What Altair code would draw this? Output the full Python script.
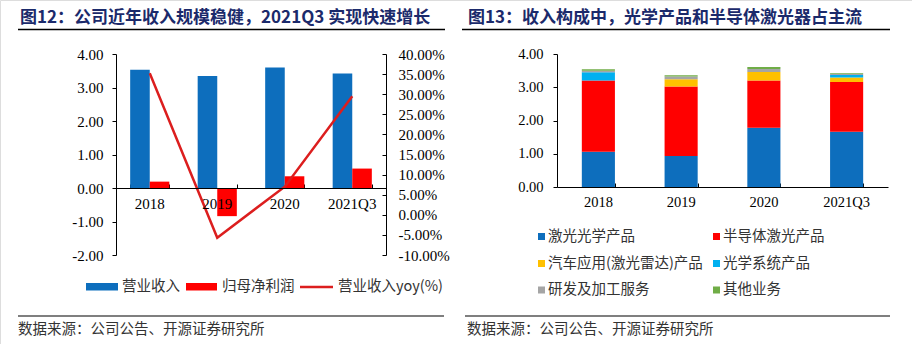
import altair as alt
import pandas as pd

# ---------------- data ----------------
years = ["2018", "2019", "2020", "2021Q3"]

# left chart (亿元 / %)
left_series = ["营业收入", "归母净利润", "营业收入yoy(%)"]
revenue = [3.53, 3.34, 3.60, 3.42]
net_profit = [0.19, -0.84, 0.35, 0.58]
revenue_yoy = [0.352, -0.057, 0.070, 0.295]
left_ticks = [-2, -1, 0, 1, 2, 3, 4]
yoy_ticks = [-0.10, -0.05, 0.0, 0.05, 0.10, 0.15, 0.20, 0.25, 0.30, 0.35, 0.40]

# right chart (亿元)
seg_names = ["激光光学产品", "半导体激光产品", "汽车应用(激光雷达)产品",
             "光学系统产品", "研发及加工服务", "其他业务"]
seg_laser_optics = [1.06, 0.93, 1.78, 1.66]
seg_semiconductor = [2.14, 2.09, 1.42, 1.50]
seg_auto_lidar = [0.00, 0.22, 0.26, 0.13]
seg_optical_sys = [0.25, 0.00, 0.00, 0.08]
seg_rd_service = [0.05, 0.08, 0.09, 0.03]
seg_other = [0.04, 0.04, 0.06, 0.02]
right_ticks = [0, 1, 2, 3, 4]

title_left = "图12：公司近年收入规模稳健，2021Q3 实现快速增长"
title_right = "图13：收入构成中，光学产品和半导体激光器占主流"
source_text = "数据来源：公司公告、开源证券研究所"

# ---------------- style ----------------
W, H = 912, 344
FONT_CN = "Noto Sans CJK SC"
FONT_NUM = "Liberation Serif"
NAVY = "#1B2A6B"
BLUE = "#0D6EBD"
RED = "#FF0000"
LINE_RED = "#DC1E1E"
SEG_COLORS = ["#0D6EBD", "#FF0000", "#FFC000", "#00B0F0", "#A5A5A5", "#70AD47"]
TXT = "#333333"

L_X0, L_X1, L_YT, L_YB = 116, 386, 54, 255
R_X0, R_X1, R_YT, R_YB = 557, 888, 54, 187
L_ZERO = 188

MINUS_FIX = "'\u2212', '-'"

# ---------------- tables ----------------
df_left = pd.DataFrame({
    "year": years * 2,
    "series": [left_series[0]] * 4 + [left_series[1]] * 4,
    "value": revenue + net_profit,
})
df_yoy = pd.DataFrame({"year": years, "yoy": revenue_yoy})

seg_values = [seg_laser_optics, seg_semiconductor, seg_auto_lidar,
              seg_optical_sys, seg_rd_service, seg_other]
rows = []
for i, (name, vals) in enumerate(zip(seg_names, seg_values)):
    for y, v in zip(years, vals):
        rows.append({"year": y, "segment": name, "value": v, "order": i})
df_right = pd.DataFrame(rows)

# ---------------- left chart ----------------
x_left_scale = alt.Scale(domain=years, range=[L_X0, L_X1], paddingInner=0.42, paddingOuter=0.21)
y_left_scale = alt.Scale(domain=[-2, 4], range=[L_YB, L_YT], nice=False, zero=False)
y_yoy_scale = alt.Scale(domain=[-0.10, 0.40], range=[L_YB, L_YT], nice=False, zero=False)

bars_left = alt.Chart(df_left).mark_bar().encode(
    x=alt.X("year:N", sort=years, scale=x_left_scale, title=None,
            axis=alt.Axis(orient="bottom", offset=L_ZERO - H, ticks=False, tickSize=0,
                          labelFont=FONT_NUM, labelFontSize=15, labelColor="#000",
                          labelPadding=8, labelAngle=0, domainColor="#000", grid=False,
                          zindex=1)),
    xOffset=alt.XOffset("series:N", sort=left_series[:2],
                        scale=alt.Scale(domain=left_series[:2], paddingInner=0, paddingOuter=0)),
    y=alt.Y("value:Q", scale=y_left_scale, title=None,
            axis=alt.Axis(orient="left", offset=-L_X0, values=left_ticks,
                          labelExpr="replace(format(datum.value, '.2f'), " + MINUS_FIX + ")",
                          tickSize=4, tickColor="#000", domainColor="#000",
                          labelFont=FONT_NUM, labelFontSize=15, labelColor="#000",
                          labelPadding=9, grid=False)),
    color=alt.Color("series:N", scale=alt.Scale(domain=left_series[:2], range=[BLUE, RED]), legend=None),
)

line_left = alt.Chart(df_yoy).mark_line(color=LINE_RED, strokeWidth=2.5).encode(
    x=alt.X("year:N", sort=years, scale=x_left_scale, title=None,
            axis=alt.Axis(orient="top", offset=-L_ZERO, labels=False, domain=False,
                          ticks=True, tickSize=4, tickColor="#000", tickBand="extent", grid=False)),
    y=alt.Y("yoy:Q", scale=y_yoy_scale, title=None,
            axis=alt.Axis(orient="right", offset=L_X1 - W, values=yoy_ticks,
                          labelExpr="replace(format(datum.value, '.2%'), " + MINUS_FIX + ")",
                          ticks=False, tickSize=0, domainColor="#000",
                          labelFont=FONT_NUM, labelFontSize=15, labelColor="#000",
                          labelPadding=12, grid=False)),
)

ghost_yoy = alt.Chart(df_yoy).mark_line(opacity=0).encode(
    x=alt.X("year:N", sort=years, scale=x_left_scale, axis=None),
    y=alt.Y("yoy:Q", scale=y_yoy_scale, title=None,
            axis=alt.Axis(orient="left", offset=-L_X1, values=yoy_ticks, labels=False,
                          domain=False, ticks=True, tickSize=4, tickColor="#000", grid=False)),
)

# ---------------- right chart ----------------
x_right_scale = alt.Scale(domain=years, range=[R_X0, R_X1], paddingInner=0.6, paddingOuter=0.3)
y_right_scale = alt.Scale(domain=[0, 4], range=[R_YB, R_YT], nice=False, zero=False)

bars_right = alt.Chart(df_right).mark_bar().encode(
    x=alt.X("year:N", sort=years, scale=x_right_scale, title=None,
            axis=alt.Axis(orient="bottom", offset=R_YB - H, ticks=False, tickSize=0,
                          labelFont=FONT_NUM, labelFontSize=14.5, labelColor="#000",
                          labelPadding=8, labelAngle=0, domainColor="#000", grid=False)),
    y=alt.Y("value:Q", stack="zero", scale=y_right_scale, title=None,
            axis=alt.Axis(orient="left", offset=-R_X0, values=right_ticks, format=".2f",
                          tickSize=4, tickColor="#000", domainColor="#000",
                          labelFont=FONT_NUM, labelFontSize=14.5, labelColor="#000",
                          labelPadding=10, grid=False)),
    color=alt.Color("segment:N", scale=alt.Scale(domain=seg_names, range=SEG_COLORS), legend=None),
    order=alt.Order("order:Q", sort="ascending"),
)

ghost_right = alt.Chart(df_right).mark_point(opacity=0).encode(
    x=alt.X("year:N", sort=years, scale=x_right_scale, title=None,
            axis=alt.Axis(orient="top", offset=-R_YB, labels=False, domain=False,
                          ticks=True, tickSize=4, tickColor="#000", tickBand="extent", grid=False)),
    y=alt.Y("value:Q", scale=y_right_scale, axis=None),
)

# ---------------- text & decorations ----------------
def text_layer(txt, x, y, size=14.5, color=TXT, weight="normal", font=FONT_CN):
    return alt.Chart(pd.DataFrame({"t": [txt]})).mark_text(
        align="left", baseline="middle", font=font, fontSize=size,
        fontWeight=weight, color=color,
    ).encode(x=alt.value(x), y=alt.value(y), text="t:N")


def hrule(x0, x1, y, width=1.5, color="#000"):
    return alt.Chart(pd.DataFrame({"a": [0]})).mark_rule(color=color, strokeWidth=width).encode(
        x=alt.value(x0), x2=alt.value(x1), y=alt.value(y))


def box(x0, x1, y0, y1, color):
    return alt.Chart(pd.DataFrame({"a": [0]})).mark_rect(color=color).encode(
        x=alt.value(x0), x2=alt.value(x1), y=alt.value(y0), y2=alt.value(y1))


deco = [
    text_layer(title_left, 20, 18, size=17, color=NAVY, weight="bold"),
    text_layer(title_right, 468, 18, size=17, color=NAVY, weight="bold"),
    hrule(18, 445, 29.5),
    hrule(462, 890, 29.5),
    hrule(18, 444, 316, width=1.2),
    hrule(465, 890, 316, width=1.2),
    text_layer(source_text, 18, 330),
    text_layer(source_text, 467, 330),
    # left legend
    box(86, 118, 283, 290.5, BLUE),
    text_layer(left_series[0], 122, 287),
    box(186, 217, 283, 290.5, RED),
    text_layer(left_series[1], 222, 287),
    hrule(300, 333, 287, width=2.5, color=LINE_RED),
    text_layer(left_series[2], 338, 287),
]

# right legend (3 rows x 2 columns)
col_x = [538, 713]
row_y = [236.5, 263.5, 290]
for i, name in enumerate(seg_names):
    cx = col_x[i % 2]
    ry = row_y[i // 2]
    deco.append(box(cx, cx + 7, ry - 3.5, ry + 3.5, SEG_COLORS[i]))
    deco.append(text_layer(name, cx + 10, ry))

chart = alt.layer(
    bars_left, line_left, ghost_yoy, bars_right, ghost_right, *deco
).resolve_scale(
    x="independent", y="independent", color="independent", xOffset="independent"
).properties(
    width=W, height=H, padding=0,
    autosize=alt.AutoSizeParams(type="none"),
).configure_view(stroke=None).configure(background="white")

chart.save("out.html", embed_options={"renderer": "svg", "actions": False})
